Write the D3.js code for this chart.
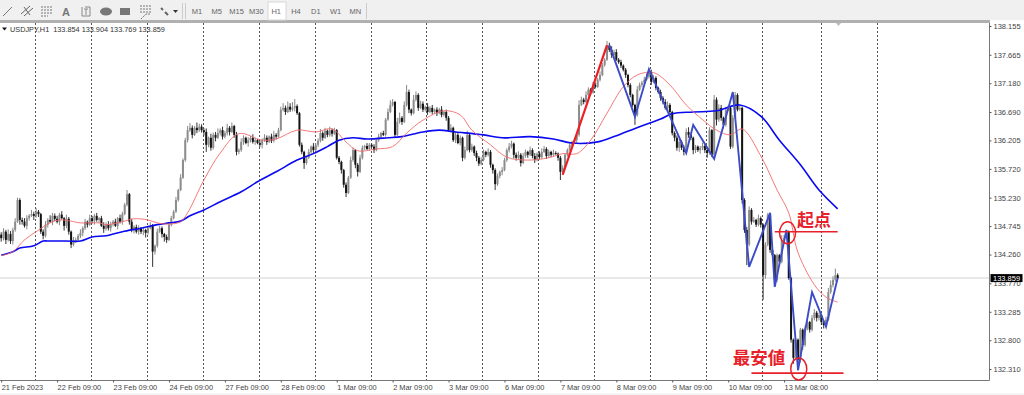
<!DOCTYPE html>
<html>
<head>
<meta charset="utf-8">
<script src="https://cdn.jsdelivr.net/npm/d3@7"></script>
<style>
    html, body { margin: 0; padding: 0; background: #fff; overflow: hidden; }
    text { font-family: "Liberation Sans", sans-serif; }
</style>
</head>
<body>
<div id="chart"></div>
<script>
const priceTicks = [138.155, 137.665, 137.180, 136.690, 136.205, 135.720, 135.230, 134.745, 134.260, 133.770, 133.285, 132.800, 132.310];
const timeLabels = ["21 Feb 2023", "22 Feb 09:00", "23 Feb 09:00", "24 Feb 09:00", "27 Feb 09:00", "28 Feb 09:00", "1 Mar 09:00", "2 Mar 09:00", "3 Mar 09:00", "6 Mar 09:00", "7 Mar 09:00", "8 Mar 09:00", "9 Mar 09:00", "10 Mar 09:00", "13 Mar 08:00"];
const timeTickBars = [0, 24, 48, 72, 96, 120, 144, 168, 192, 216, 240, 264, 288, 312, 336];
const gridBars = [14.5, 38.5, 62.5, 86.5, 110.5, 134.5, 158.5, 182.5, 206.5, 230.5, 254.5, 278.5, 302.5, 326.5, 352, 376];
const timeframes = ["M1", "M5", "M15", "M30", "H1", "H4", "D1", "W1", "MN"];

// hourly closes
const closes = [
    134.54,134.65,134.51,134.61,134.49,134.68,134.82,135.19,134.85,134.82,134.75,134.88,134.92,134.95,134.92,134.99,134.95,134.65,134.58,134.77,134.85,134.82,134.92,134.87,
    134.82,134.94,134.88,134.75,134.87,134.65,134.43,134.51,134.51,134.58,134.63,134.71,134.82,134.77,134.88,134.83,134.92,134.85,134.88,134.75,134.70,134.78,134.71,134.78,
    134.82,134.75,134.88,134.82,134.95,135.11,135.29,134.82,134.68,134.73,134.65,134.70,134.65,134.68,134.63,134.71,134.75,134.31,134.41,134.65,134.71,134.61,134.56,134.51,
    134.77,134.88,134.99,135.19,135.36,135.57,135.87,136.21,136.38,136.42,136.30,136.42,136.38,136.44,136.38,136.35,136.13,136.25,136.08,136.30,136.25,136.33,136.38,136.27,
    136.33,136.42,136.35,136.45,136.30,136.01,136.04,136.18,136.25,136.16,136.21,136.25,136.18,136.21,136.16,136.13,136.21,136.25,136.18,136.27,136.20,136.30,136.27,136.38,
    136.73,136.76,136.69,136.78,136.73,136.76,136.79,136.67,136.13,136.01,135.82,135.91,136.01,136.10,136.04,136.13,136.20,136.33,136.25,136.37,136.30,136.38,136.32,136.38,
    135.91,135.84,135.70,135.45,135.31,135.57,135.87,136.04,135.79,135.67,135.91,136.08,136.11,136.06,136.13,136.10,136.04,136.21,136.27,136.33,136.30,136.56,136.69,136.81,
    136.86,136.30,136.52,136.59,136.52,136.81,137.03,136.73,136.67,136.90,136.98,136.76,136.83,136.73,136.78,136.69,136.76,136.69,136.73,136.67,136.73,136.64,136.69,136.59,
    136.38,136.42,136.21,136.30,136.16,136.25,135.91,136.04,136.30,136.04,136.10,135.99,135.91,135.81,135.87,136.01,135.96,136.01,135.79,135.70,135.46,135.60,135.67,135.70,
    135.87,136.04,136.10,136.15,135.96,135.91,135.96,135.82,135.94,136.01,135.96,136.04,135.94,135.87,135.98,135.92,136.01,136.06,135.94,136.01,135.96,135.99,135.98,135.91,
    135.67,135.74,135.96,136.04,136.13,136.18,136.21,136.30,136.81,136.90,136.86,136.98,137.07,137.02,137.15,137.12,137.24,137.32,137.49,137.58,137.82,137.75,137.66,137.71,
    137.58,137.54,137.48,137.41,137.32,137.15,136.98,136.81,136.64,137.07,137.15,137.19,137.24,137.29,137.37,137.20,137.27,137.10,137.03,136.93,136.86,136.76,136.81,136.69,
    136.33,136.25,136.08,136.18,136.08,136.01,136.35,136.30,136.25,136.04,136.10,136.04,136.08,136.11,136.04,135.99,136.38,135.96,136.90,136.56,136.76,136.59,136.47,136.73,
    136.76,136.10,136.59,136.98,136.73,136.76,135.19,134.68,134.43,135.02,134.82,134.85,134.77,134.88,134.77,133.91,134.43,134.94,134.34,134.25,133.83,134.25,134.14,134.51,
    134.54,134.65,133.86,132.81,132.50,132.81,132.47,132.98,132.72,133.01,133.11,132.98,133.18,133.27,133.18,133.23,133.11,133.06,133.15,133.62,133.74,133.83,133.91,133.859
];
const firstOpen = 134.60;

// wick lengths above/below the candle body, in hundredths of a yen
const wicksUp = [
    4,6,3,8,5,4,6,4,3,4,6,5,3,7,4,6,3,2,4,6,3,8,5,4,
    5,3,6,2,7,3,2,5,4,3,6,3,5,2,6,4,3,5,2,4,6,3,5,4,
    3,5,2,6,4,3,7,2,5,3,4,6,3,5,2,4,6,3,2,5,4,3,2,4,
    2,4,3,5,2,6,3,4,7,8,4,3,9,5,4,3,6,2,7,4,5,8,3,6,
    4,7,3,6,2,5,3,6,4,2,5,3,6,4,2,5,3,6,4,2,5,7,3,4,
    5,8,4,9,6,10,12,3,2,4,2,3,5,2,6,3,4,7,3,5,2,6,3,4,
    2,3,2,2,4,3,6,4,2,3,5,4,2,5,3,2,4,3,5,2,4,3,6,8,
    5,2,7,9,3,6,12,4,2,8,6,3,5,4,2,6,3,5,2,4,3,6,2,4,
    3,6,2,5,3,4,2,6,7,3,5,2,4,3,5,4,2,6,3,2,3,4,2,5,
    4,3,6,5,2,4,6,3,5,4,2,6,3,5,2,4,6,5,3,4,2,6,3,2,
    3,4,2,3,5,2,4,2,8,5,3,6,4,3,5,4,3,6,4,3,8,5,6,4,
    5,3,4,2,3,2,3,2,2,6,4,3,5,6,7,4,5,3,2,4,3,5,6,3,
    2,3,4,5,3,4,6,8,3,2,3,2,3,6,3,2,5,2,8,4,6,5,2,5,
    4,2,5,5,3,4,2,3,5,6,3,5,2,6,3,2,4,3,2,3,2,3,2,8,
    5,3,2,2,2,3,2,3,2,4,5,2,5,6,3,4,2,3,5,7,8,6,11,3
];
const wicksDown = [
    6,4,7,3,5,6,3,2,8,5,3,6,4,2,7,3,5,4,6,3,5,2,6,4,
    3,6,2,8,4,5,6,3,5,2,4,6,3,5,2,4,6,3,5,2,7,3,4,6,
    4,2,6,3,5,2,3,5,4,6,3,5,4,6,8,3,2,26,5,3,2,6,8,5,
    2,3,2,2,3,2,2,3,4,3,6,2,5,3,4,6,12,4,5,3,6,2,4,5,
    3,4,6,2,5,6,4,3,5,2,6,4,3,5,2,4,6,3,5,2,4,3,5,2,
    2,3,5,2,4,3,6,3,3,4,10,3,2,4,5,2,4,3,5,2,4,3,5,2,
    3,4,6,5,7,2,2,3,6,8,2,3,4,2,3,2,5,2,3,4,2,3,2,2,
    3,4,2,3,5,2,3,6,4,2,3,5,2,4,3,5,2,4,3,5,2,4,3,5,
    2,4,3,5,2,4,6,3,2,4,3,5,6,4,3,2,4,3,5,6,10,3,4,6,
    2,3,4,3,6,5,3,6,2,3,5,2,4,5,2,4,3,2,5,3,4,3,2,5,
    14,5,2,3,2,3,2,4,3,2,4,2,3,4,2,3,2,3,2,3,2,4,5,3,
    2,3,4,3,5,4,4,3,17,3,2,4,3,2,3,5,2,4,3,5,4,3,4,5,
    4,6,5,7,4,6,3,5,4,7,5,3,6,4,5,8,3,4,6,10,4,5,6,3,
    2,4,3,2,3,2,6,5,35,3,5,2,4,3,5,42,6,3,5,4,6,4,5,3,
    3,2,3,5,10,4,18,5,8,3,4,5,3,4,6,4,5,6,3,2,3,4,3,2
];

// moving averages, sampled every few bars along the curves
const slowMaBars = [0,5,8,14,18,21,28,34,39,45,52,60,67,72,77,81,87,94,103,110,118,127,134,140,145,151,157,166,172,181,188,195,207,215,227,237,245,256,263,274,283,288,297,307,317,326,334,343,351,359];
const slowMaValues = [134.25,134.31,134.37,134.41,134.49,134.49,134.49,134.49,134.56,134.58,134.65,134.71,134.77,134.80,134.83,134.92,135.02,135.16,135.33,135.50,135.67,135.87,135.98,136.10,136.21,136.25,136.23,136.25,136.27,136.35,136.38,136.35,136.30,136.25,136.27,136.23,136.16,136.18,136.27,136.44,136.57,136.66,136.69,136.71,136.81,136.62,136.21,135.79,135.36,135.04];
const fastMaBars = [0,5,10,15,21,25,30,34,42,45,52,57,63,67,72,77,80,87,94,102,112,118,127,135,142,148,153,161,168,174,181,190,197,202,210,217,226,235,241,247,253,260,267,273,280,287,294,301,307,313,318,326,333,338,342,350,355,359];
const fastMaValues = [134.24,134.31,134.51,134.65,134.80,134.85,134.83,134.80,134.80,134.77,134.82,134.87,134.85,134.80,134.78,134.82,134.97,135.53,135.99,136.32,136.21,136.23,136.38,136.35,136.40,136.18,136.03,136.06,136.10,136.33,136.55,136.71,136.64,136.38,136.13,135.92,135.87,135.91,135.98,135.98,136.21,136.67,137.12,137.32,137.36,137.15,136.81,136.56,136.38,136.30,136.40,135.94,135.36,134.97,134.29,133.69,133.51,133.45];

// hand drawn trend lines
const zigzagBars = [261,272,278,294,297,306,314,321,330,332,337,342,348,354,359];
const zigzagValues = [137.83,136.61,137.42,135.99,136.47,135.89,137.03,134.05,134.97,133.71,134.68,132.29,133.62,133.03,133.86];
const riseBars = [241,260];
const riseValues = [135.62,137.83];

const lastPrice = 133.859;
const headerText = "USDJPY,H1  133.854 133.904 133.769 133.859";

const width = 1024, height = 395;
const plot = { left: 0, right: 989, top: 23, bottom: 380 };

const svg = d3.select("#chart").append("svg")
    .attr("width", width)
    .attr("height", height)
    .style("display", "block");

const xScale = d3.scaleLinear().domain([0, 360]).range([1.2, 840]);
const yScale = d3.scaleLinear().domain([132.310, 138.155]).range([369, 26]);

// Toolbar
svg.append("rect").attr("width", width).attr("height", 20).attr("fill", "#f0f0f0");
svg.append("rect").attr("y", 20).attr("width", plot.right + 1).attr("height", 3).attr("fill", "#b0b0b0");
svg.append("rect").attr("x", 268).attr("y", 2).attr("width", 18).attr("height", 18).attr("fill", "#fff").attr("stroke", "#d8d8d8");

const icons = svg.append("g").attr("stroke", "#777").attr("fill", "none");
icons.append("line").attr("x1", 3).attr("y1", 16).attr("x2", 12).attr("y2", 7);
icons.append("path").attr("d", "M21 14L30 6M24 16L33 8M24 7L30 15").attr("stroke", "#666");
icons.append("path").attr("d", "M41 7H53M41 10H53M41 13H53M41 16H48").attr("stroke-dasharray", "2 1");
icons.append("path").attr("d", "M85 7H90M82 7V16M82 16H90M90 7V16M84 9H88M86 9V15").attr("stroke", "#888");
icons.append("ellipse").attr("cx", 106).attr("cy", 11.5).attr("rx", 6).attr("ry", 4).attr("fill", "#777").attr("stroke", "none");
icons.append("rect").attr("x", 120).attr("y", 8).attr("width", 10).attr("height", 7).attr("fill", "#777").attr("stroke", "none");
icons.append("path").attr("d", "M140 6H151M140 9H151M140 12H151M141 19L146 14H150").attr("stroke-dasharray", "2 1");
icons.append("path").attr("d", "M161 8L163 10M165 12L168 15").attr("stroke", "#666").attr("stroke-width", 2);
icons.append("path").attr("d", "M173 10L178 10L175.5 13Z").attr("fill", "#333").attr("stroke", "none");
icons.append("path").attr("d", "M182.5 3V19M185.5 3V19M366.5 3V19").attr("stroke", "#ccc");

svg.append("text").attr("x", 62).attr("y", 15.5).attr("font-size", 11).attr("font-weight", "bold").attr("fill", "#777").text("A");

svg.append("g").selectAll("text")
    .data(timeframes)
    .join("text")
    .attr("x", (d, i) => 197 + i * 19.8)
    .attr("y", 14)
    .attr("text-anchor", "middle")
    .attr("font-size", 7.5)
    .attr("fill", "#666")
    .text(d => d);

// Chart frame and bottom strip
svg.append("rect").attr("y", 393).attr("width", width).attr("height", 2).attr("fill", "#f4f4f4");
svg.append("path")
    .attr("d", `M${plot.left} ${plot.bottom + 0.5}H${plot.right + 0.5}V${plot.top}`)
    .attr("fill", "none")
    .attr("stroke", "#777");

// Vertical period separators
svg.append("g").selectAll("line")
    .data(gridBars)
    .join("line")
    .attr("x1", d => Math.round(xScale(d)) + 0.5)
    .attr("x2", d => Math.round(xScale(d)) + 0.5)
    .attr("y1", plot.top)
    .attr("y2", plot.bottom)
    .attr("stroke", "#555")
    .attr("stroke-dasharray", "2 2");

// Last price line goes under the candles
svg.append("line")
    .attr("x1", plot.left)
    .attr("x2", plot.right)
    .attr("y1", yScale(lastPrice))
    .attr("y2", yScale(lastPrice))
    .attr("stroke", "#e8e8e8")
    .attr("stroke-width", 2);

// Candles
const candles = closes.map((close, i) => {
    const open = i === 0 ? firstOpen : closes[i - 1];
    return {
        i, open, close,
        high: Math.max(open, close) + wicksUp[i] / 100,
        low: Math.min(open, close) - wicksDown[i] / 100
    };
});

svg.append("g").selectAll("line")
    .data(candles)
    .join("line")
    .attr("x1", d => xScale(d.i))
    .attr("x2", d => xScale(d.i))
    .attr("y1", d => yScale(d.high))
    .attr("y2", d => yScale(d.low))
    .attr("stroke", d => d.close >= d.open ? "#888" : "#333")
    .attr("stroke-width", 1);

svg.append("g").selectAll("rect")
    .data(candles)
    .join("rect")
    .attr("x", d => xScale(d.i) - 1)
    .attr("width", 2)
    .attr("y", d => yScale(Math.max(d.open, d.close)))
    .attr("height", d => Math.max(1, Math.abs(yScale(d.open) - yScale(d.close))))
    .attr("fill", d => d.close >= d.open ? "#8c8c8c" : "#141414");

// Moving averages
const maLine = d3.line()
    .x(d => xScale(d[0]))
    .y(d => yScale(d[1]))
    .curve(d3.curveCatmullRom.alpha(0.5));

svg.append("path")
    .attr("d", maLine(d3.zip(slowMaBars, slowMaValues)))
    .attr("fill", "none")
    .attr("stroke", "#0a0af0")
    .attr("stroke-width", 1.6);

svg.append("path")
    .attr("d", maLine(d3.zip(fastMaBars, fastMaValues)))
    .attr("fill", "none")
    .attr("stroke", "#f46a6a")
    .attr("stroke-width", 0.9);

// Trend lines
const straight = d3.line().x(d => xScale(d[0])).y(d => yScale(d[1]));

svg.append("path")
    .attr("d", straight(d3.zip(zigzagBars, zigzagValues)))
    .attr("fill", "none")
    .attr("stroke", "#3c4cc8")
    .attr("stroke-width", 1.9);

svg.append("path")
    .attr("d", straight(d3.zip(riseBars, riseValues)))
    .attr("fill", "none")
    .attr("stroke", "#ee1c24")
    .attr("stroke-width", 2.2);

// Annotations
const marks = [
    { bars: [332, 359], price: 134.65, circle: [337.5, 134.63], label: "起点", labelBar: 341.5, labelPrice: 134.74, size: 17 },
    { bars: [322, 361.5], price: 132.24, circle: [342.3, 132.31], label: "最安値", labelBar: 314, labelPrice: 132.40, size: 17.5 }
];

marks.forEach(m => {
    svg.append("line")
        .attr("x1", xScale(m.bars[0]))
        .attr("x2", xScale(m.bars[1]))
        .attr("y1", yScale(m.price))
        .attr("y2", yScale(m.price))
        .attr("stroke", "#e8202a")
        .attr("stroke-width", 1.6);
    svg.append("ellipse")
        .attr("cx", xScale(m.circle[0]))
        .attr("cy", yScale(m.circle[1]))
        .attr("rx", 8)
        .attr("ry", 11)
        .attr("fill", "none")
        .attr("stroke", "#e8202a")
        .attr("stroke-width", 1.5);
    svg.append("text")
        .attr("x", xScale(m.labelBar))
        .attr("y", yScale(m.labelPrice))
        .attr("font-size", m.size)
        .attr("font-weight", "bold")
        .attr("fill", "#e8202a")
        .style("font-family", "'Noto Sans CJK JP'")
        .text(m.label);
});

// Price axis
const yAxis = svg.append("g")
    .attr("transform", `translate(${plot.right + 0.5},0)`)
    .call(d3.axisRight(yScale).tickValues(priceTicks).tickFormat(d3.format(".3f")).tickSize(2).tickPadding(2));
yAxis.select(".domain").remove();
yAxis.selectAll("line").attr("stroke", "#555");
yAxis.selectAll("text").attr("font-size", 7.5).attr("font-family", "'Liberation Sans'").attr("fill", "#444");

svg.append("rect")
    .attr("x", plot.right + 1.5)
    .attr("y", yScale(lastPrice) - 4)
    .attr("width", 32)
    .attr("height", 8)
    .attr("fill", "#000");
svg.append("text")
    .attr("x", plot.right + 4)
    .attr("y", yScale(lastPrice) + 3)
    .attr("font-size", 7.5)
    .attr("fill", "#fff")
    .text(d3.format(".3f")(lastPrice));

// Time axis
const xAxis = svg.append("g")
    .attr("transform", `translate(0,${plot.bottom + 0.5})`)
    .call(d3.axisBottom(xScale).tickValues(timeTickBars).tickFormat((d, i) => timeLabels[i]).tickSize(2).tickPadding(2));
xAxis.select(".domain").remove();
xAxis.selectAll("line").attr("stroke", "#555");
xAxis.selectAll("text")
    .attr("text-anchor", "start")
    .attr("font-size", 7.4)
    .attr("font-family", "'Liberation Sans'")
    .attr("fill", "#444");

// Header
svg.append("path").attr("d", "M2 27.5H7L4.5 30.5Z").attr("fill", "#111");
svg.append("text")
    .attr("x", 10)
    .attr("y", 32)
    .attr("font-size", 7.3)
    .attr("fill", "#333")
    .style("white-space", "pre")
    .text(headerText);

// Small shift marker on the top edge
svg.append("path").attr("d", "M836 23H841L838.5 26Z").attr("fill", "#bbb");
</script>
</body>
</html>
